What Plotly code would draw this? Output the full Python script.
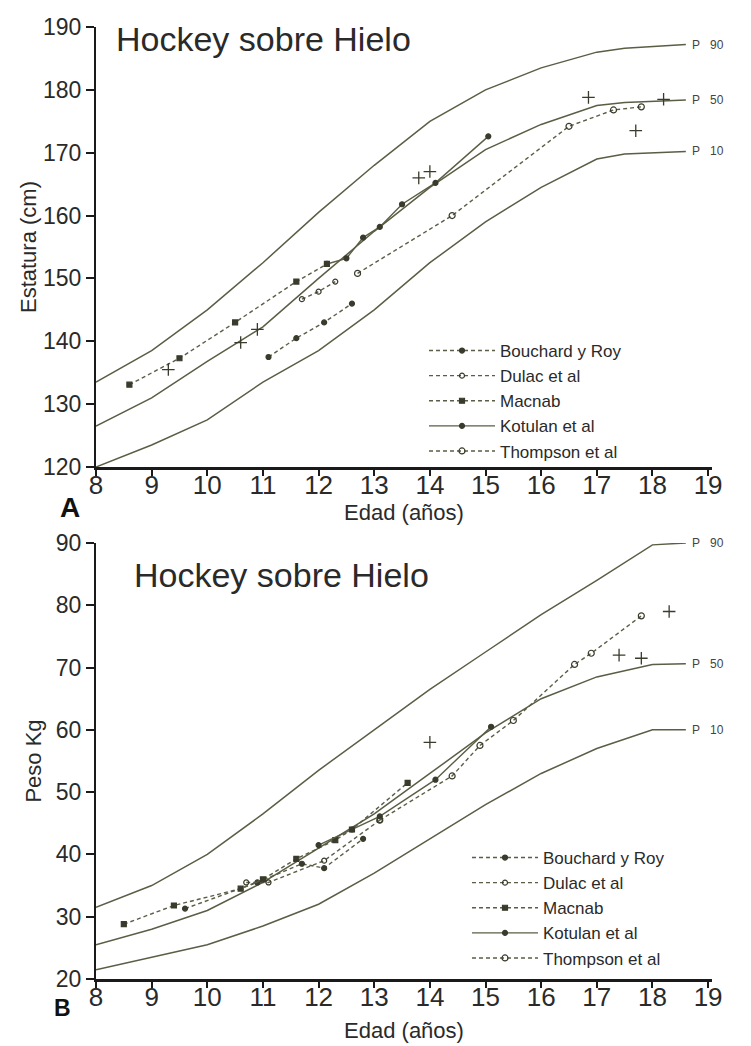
import plotly.graph_objects as go

# ---------------- Data: Estatura (top) ----------------
age_pct_h = [8, 9, 10, 11, 12, 13, 14, 15, 16, 17, 17.5, 18.6]
h_p90 = [133.5, 138.5, 145, 152.5, 160.5, 168, 175, 180, 183.5, 186, 186.6, 187.2]
h_p50 = [126.5, 131, 136.8, 142.3, 150, 157.5, 164.5, 170.5, 174.5, 177.5, 178, 178.4]
h_p10 = [120, 123.5, 127.5, 133.5, 138.5, 145, 152.5, 159, 164.5, 169, 169.8, 170.2]

h_bouchard_x = [11.1, 11.6, 12.1, 12.6]
h_bouchard_y = [137.5, 140.5, 143, 146]
h_dulac_x = [11.7, 12.0, 12.3]
h_dulac_y = [146.7, 147.9, 149.5]
h_macnab_x = [8.6, 9.5, 10.5, 11.6, 12.15]
h_macnab_y = [133.1, 137.3, 143, 149.5, 152.3]
h_kotulan_x = [12.15, 12.5, 12.8, 13.1, 13.5, 14.1, 15.05]
h_kotulan_y = [152.3, 153.2, 156.5, 158.2, 161.8, 165.2, 172.6]
h_thompson_x = [12.7, 14.4, 16.5, 17.3, 17.8]
h_thompson_y = [150.8, 160, 174.2, 176.8, 177.3]
h_extra_x = [9.3, 10.6, 10.9, 13.8, 14.0, 16.85, 17.7, 18.2]
h_extra_y = [135.5, 139.8, 141.9, 166, 167, 178.8, 173.5, 178.5]

# ---------------- Data: Peso (bottom) ----------------
age_pct_w = [8, 9, 10, 11, 12, 13, 14, 15, 16, 17, 18, 18.6]
w_p90 = [31.5, 35, 40, 46.5, 53.5, 60, 66.5, 72.5, 78.5, 84, 89.7, 90]
w_p50 = [25.5, 28, 31, 35.5, 41, 46.5, 53, 59.5, 65, 68.5, 70.5, 70.6]
w_p10 = [21.5, 23.5, 25.5, 28.5, 32, 37, 42.5, 48, 53, 57, 60, 60]

w_bouchard_x = [9.6, 10.9, 11.7, 12.1, 12.8]
w_bouchard_y = [31.3, 35.5, 38.5, 37.8, 42.5]
w_dulac_x = [10.7, 11.1, 12.1, 13.1]
w_dulac_y = [35.5, 35.5, 39.0, 45.5]
w_macnab_x = [8.5, 9.4, 10.6, 11.0, 11.6, 12.3, 12.6, 13.6]
w_macnab_y = [28.8, 31.8, 34.5, 36.0, 39.3, 42.3, 44.0, 51.5]
w_kotulan_x = [12.0, 12.6, 13.1, 14.1, 15.1]
w_kotulan_y = [41.5, 44.0, 46.1, 52.0, 60.5]
w_thompson_x = [13.1, 14.4, 14.9, 15.5, 16.6, 16.9, 17.8]
w_thompson_y = [45.5, 52.6, 57.5, 61.5, 70.5, 72.3, 78.3]
w_extra_x = [14.0, 17.4, 17.8, 18.3]
w_extra_y = [58, 72, 71.5, 79]
w_dot_x = [18.2]
w_dot_y = [92.4]

series_names = ["Bouchard y Roy", "Dulac et al", "Macnab", "Kotulan et al", "Thompson et al"]
x_ticks = list(range(8, 20))
h_ticks = [120, 130, 140, 150, 160, 170, 180, 190]
w_ticks = [20, 30, 40, 50, 60, 70, 80, 90]
pct_labels = ["P\u00a0\u00a0\u00a090", "P\u00a0\u00a0\u00a050", "P\u00a0\u00a0\u00a010"]

LINE = "#5b5d45"
MARK = "#3a3b2c"
TXT = "#2a2a2a"
FONT = "Liberation Sans, Arial, sans-serif"
DASH = "4px,3px"

W, H = 751, 1046
OFF = 8  # page body margin


def px(X):
    return (X - OFF) / W


def py(Y):
    return 1 - (Y - OFF) / H


fig = go.Figure()


def add_panel(xa, ya, leg, pct_x, pcts, series, extra):
    for yv in pcts:
        fig.add_trace(go.Scatter(x=pct_x, y=yv, mode="lines", xaxis=xa, yaxis=ya,
                                 line=dict(color=LINE, width=1.5), showlegend=False,
                                 hoverinfo="skip"))
    styles = [
        dict(dash=DASH, sym="circle", size=5),
        dict(dash=DASH, sym="circle-open", size=5),
        dict(dash=DASH, sym="square", size=5),
        dict(dash="solid", sym="circle", size=5),
        dict(dash=DASH, sym="circle-open", size=6),
    ]
    for name, (sx, sy), st in zip(series_names, series, styles):
        fig.add_trace(go.Scatter(x=sx, y=sy, mode="lines+markers", name=name,
                                 xaxis=xa, yaxis=ya, legend=leg,
                                 line=dict(color=LINE, width=1.4, dash=st["dash"]),
                                 marker=dict(symbol=st["sym"], size=st["size"], color=MARK,
                                             line=dict(color=MARK, width=1.2))))
    for ex, ey, sym, sz in extra:
        fig.add_trace(go.Scatter(x=ex, y=ey, mode="markers", xaxis=xa, yaxis=ya,
                                 showlegend=False, cliponaxis=False,
                                 marker=dict(symbol=sym, size=sz, color=MARK,
                                             line=dict(color=MARK, width=1.3))))


add_panel("x", "y", "legend", age_pct_h, [h_p90, h_p50, h_p10],
          [(h_bouchard_x, h_bouchard_y), (h_dulac_x, h_dulac_y), (h_macnab_x, h_macnab_y),
           (h_kotulan_x, h_kotulan_y), (h_thompson_x, h_thompson_y)],
          [(h_extra_x, h_extra_y, "cross-thin-open", 9)])
add_panel("x2", "y2", "legend2", age_pct_w, [w_p90, w_p50, w_p10],
          [(w_bouchard_x, w_bouchard_y), (w_dulac_x, w_dulac_y), (w_macnab_x, w_macnab_y),
           (w_kotulan_x, w_kotulan_y), (w_thompson_x, w_thompson_y)],
          [(w_extra_x, w_extra_y, "cross-thin-open", 9), (w_dot_x, w_dot_y, "circle", 4)])

xdom = [px(96), px(712)]
xrange_ = [8, 19.07]

axis_common = dict(showgrid=False, zeroline=False, ticks="outside",
                   tickwidth=1.5, tickcolor="#1a1a1a", linecolor="#1a1a1a",
                   showline=True, automargin=False)

fig.update_layout(
    width=W, height=H,
    margin=dict(l=0, r=0, t=0, b=0, pad=0),
    paper_bgcolor="white", plot_bgcolor="white",
    font=dict(family=FONT, color=TXT),
    xaxis=dict(axis_common, domain=xdom, range=xrange_, tickvals=x_ticks, ticklen=6,
               linewidth=3, anchor="y", ticklabelstandoff=-13,
               tickfont=dict(size=26, family=FONT, color=TXT),
               title=dict(text="Edad (años)", font=dict(size=22), standoff=5)),
    yaxis=dict(axis_common, domain=[py(467), py(27)], range=[120, 190], ticklen=8,
               tickvals=h_ticks, linewidth=2, anchor="x",
               tickfont=dict(size=23, family=FONT, color=TXT),
               title=dict(text="Estatura (cm)", font=dict(size=22), standoff=0)),
    xaxis2=dict(axis_common, domain=xdom, range=xrange_, tickvals=x_ticks, ticklen=6,
                linewidth=3, anchor="y2", ticklabelstandoff=-13,
                tickfont=dict(size=26, family=FONT, color=TXT),
                title=dict(text="Edad (años)", font=dict(size=22), standoff=12)),
    yaxis2=dict(axis_common, domain=[py(979), py(543)], range=[20, 90], ticklen=8,
                tickvals=w_ticks, linewidth=2, anchor="x2",
                tickfont=dict(size=23, family=FONT, color=TXT),
                title=dict(text="Peso Kg", font=dict(size=22), standoff=8)),
    legend=dict(x=px(424), y=py(333), xanchor="left", yanchor="top",
                bgcolor="rgba(255,255,255,0)", itemwidth=66,
                font=dict(size=17, family=FONT, color=TXT)),
    legend2=dict(x=px(467), y=py(840), xanchor="left", yanchor="top",
                 bgcolor="rgba(255,255,255,0)", itemwidth=66,
                 font=dict(size=17, family=FONT, color=TXT)),
)

ann = []
ann.append(dict(text="Hockey sobre Hielo", x=px(114), y=py(39), xref="paper", yref="paper",
                xanchor="left", yanchor="middle", showarrow=False,
                font=dict(size=34, family=FONT, color=TXT)))
ann.append(dict(text="Hockey sobre Hielo", x=px(132), y=py(575), xref="paper", yref="paper",
                xanchor="left", yanchor="middle", showarrow=False,
                font=dict(size=34, family=FONT, color=TXT)))
ann.append(dict(text="<b>A</b>", x=px(70), y=py(507), xref="paper", yref="paper",
                xanchor="center", yanchor="middle",
                showarrow=False, font=dict(size=28, family=FONT, color="#111")))
ann.append(dict(text="<b>B</b>", x=px(63), y=py(1008), xref="paper", yref="paper",
                xanchor="center", yanchor="middle",
                showarrow=False, font=dict(size=23, family=FONT, color="#111")))
for txt, yv, ax, ay in [(pct_labels[0], h_p90[-1], "x", "y"), (pct_labels[1], h_p50[-1], "x", "y"),
                        (pct_labels[2], h_p10[-1], "x", "y"),
                        (pct_labels[0], w_p90[-1], "x2", "y2"), (pct_labels[1], w_p50[-1], "x2", "y2"),
                        (pct_labels[2], w_p10[-1], "x2", "y2")]:
    ann.append(dict(text=txt, x=18.68, y=yv, xref=ax, yref=ay, xanchor="left",
                    yanchor="middle", showarrow=False,
                    font=dict(size=12, family=FONT, color="#444")))
fig.update_layout(annotations=ann)

fig.write_html("out.html")
